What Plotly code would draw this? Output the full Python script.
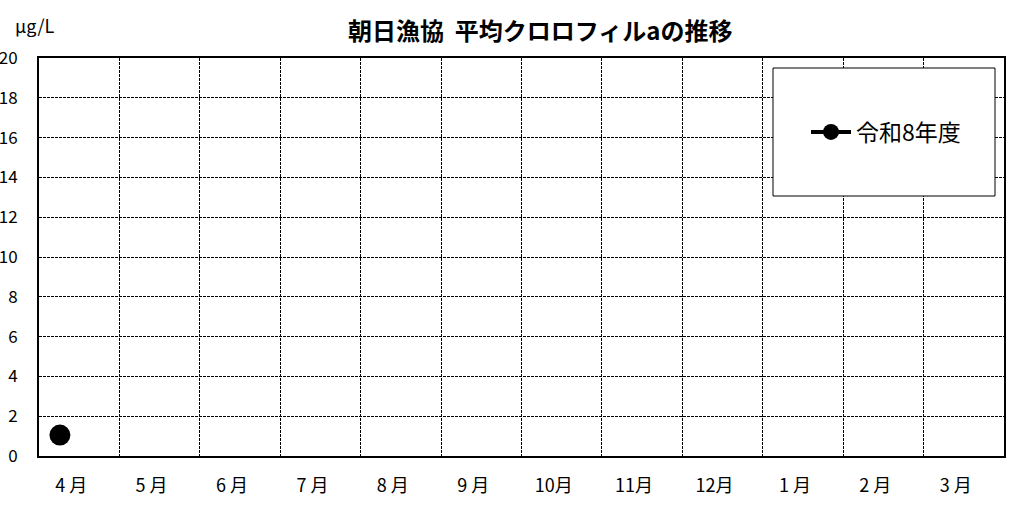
import plotly.graph_objects as go

months = ['4月', '5月', '6月', '7月', '8月', '9月', '10月', '11月', '12月', '1月', '2月', '3月']
chl_r8 = [1.05, None, None, None, None, None, None, None, None, None, None, None]
sample_pos = 0.26   # sampling point within each month band
series_name = '令和8年度'
y_ticks = list(range(0, 21, 2))

font_jp = 'MS PGothic, Noto Sans CJK JP, sans-serif'

x_pts = [i + sample_pos for i in range(len(months))]

fig = go.Figure()
fig.add_trace(go.Scatter(
    x=x_pts, y=chl_r8, name=series_name, mode='lines+markers',
    line=dict(color='black', width=4),
    marker=dict(color='black', size=21),
    connectgaps=False,
))

grid_dash = '3px,1px'
fig.update_xaxes(
    range=[0, len(months)], automargin=False,
    tickvals=[i + 0.4 for i in range(len(months))],
    ticktext=[m.replace('月', ' 月') if len(m) == 2 else m for m in months],
    showgrid=False, ticks='', ticklabelstandoff=12,
    showline=True, linecolor='black', linewidth=2, mirror=True,
    tickfont=dict(size=18, color='black', family=font_jp),
    minor=dict(tickvals=list(range(1, len(months))), showgrid=True,
               gridcolor='black', gridwidth=1, griddash=grid_dash, ticks=''),
    zeroline=False,
)
fig.update_yaxes(
    range=[0, 20], tickvals=y_ticks, automargin=False,
    showgrid=True, gridcolor='black', gridwidth=1, griddash=grid_dash,
    showline=True, linecolor='black', linewidth=2, mirror=True,
    ticks='', ticklabelstandoff=16,
    tickfont=dict(size=17, color='black', family=font_jp),
    zeroline=False,
)

# legend box
fig.add_shape(type='rect', xref='paper', yref='paper',
              x0=(773 - 39) / 965, x1=(995 - 39) / 965,
              y0=(456 - 196) / 398, y1=(456 - 68) / 398,
              line=dict(color='black', width=1), fillcolor='white', layer='above')

fig.add_annotation(text='μg/L', xref='paper', yref='paper', x=-0.027, y=1.083,
                   xanchor='left', yanchor='middle', showarrow=False,
                   font=dict(size=18, color='black', family=font_jp))

fig.update_layout(
    width=1027, height=508,
    margin=dict(l=39, r=23, t=58, b=52),
    plot_bgcolor='white', paper_bgcolor='white',
    title=dict(text='<b>朝日漁協  平均クロロフィルaの推移</b>', x=0.526, xanchor='center',
               y=0.937, yanchor='middle',
               font=dict(size=24, color='black', family=font_jp)),
    showlegend=True,
    legend=dict(x=(806 - 39) / 965, y=(456 - 132) / 398, xanchor='left', yanchor='middle',
                bgcolor='rgba(0,0,0,0)', borderwidth=0,
                font=dict(size=23, color='black', family=font_jp),
                itemwidth=40),
)

fig.write_html('out.html', config={'displayModeBar': False},
               post_script="document.body.style.margin='0';")
